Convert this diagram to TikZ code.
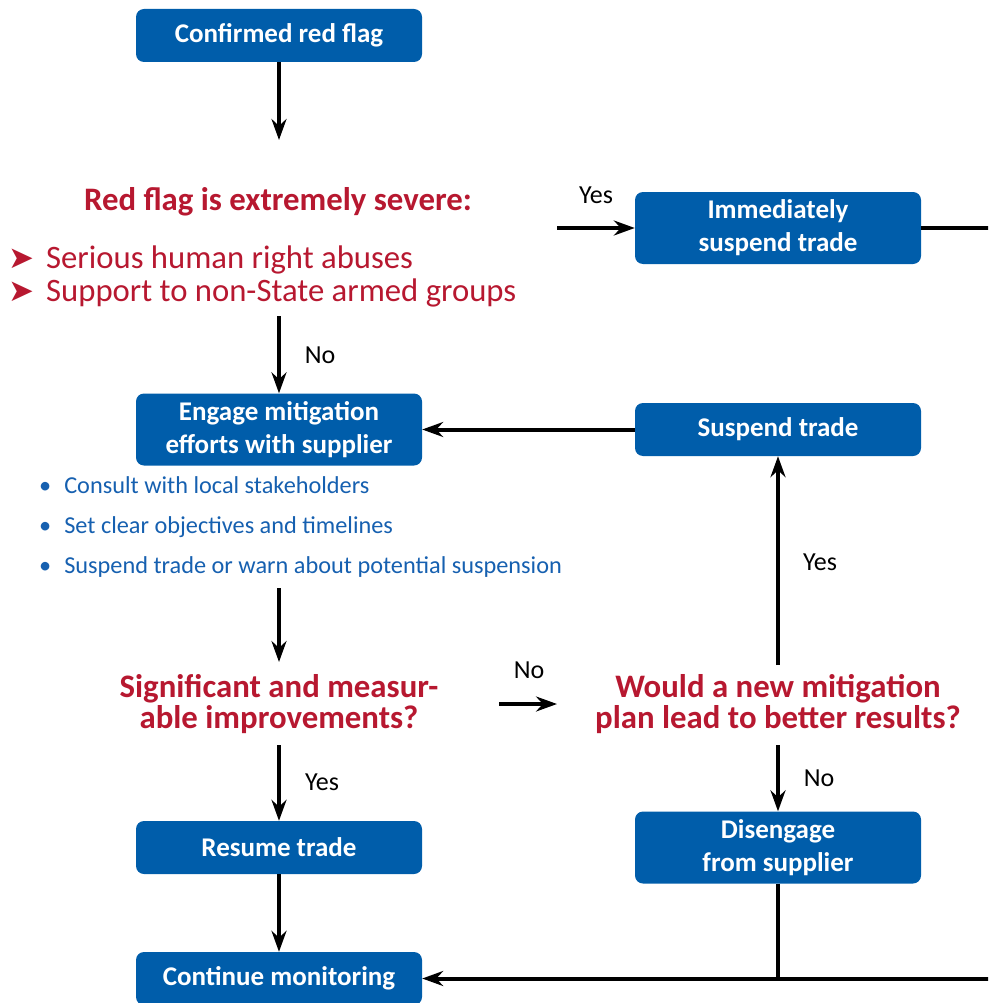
\documentclass[tikz,border=0pt]{standalone}
\usepackage{fontspec}
\setmainfont{Carlito}
\newfontfamily\symfont{DejaVu Sans}
\usetikzlibrary{arrows.meta}
\definecolor{boxblue}{RGB}{0,93,170}
\definecolor{flagred}{RGB}{183,24,48}
\definecolor{listblue}{RGB}{22,96,176}
\begin{document}
\begin{tikzpicture}[x=1pt,y=-1pt,
  box/.style={fill=boxblue, rounded corners=8pt, minimum width=286pt, text=white,
    font=\fontsize{27}{33}\selectfont\bfseries, align=center, inner sep=0pt},
  onebox/.style={box, minimum height=53pt},
  twobox/.style={box, minimum height=72pt},
  conn/.style={line width=4pt, -{Stealth[length=21pt,width=15pt,inset=7pt]}},
  plainline/.style={line width=4pt},
  lab/.style={font=\fontsize{26}{30}\selectfont, text=black},
  question/.style={text=flagred, font=\fontsize{32.8}{31.5}\selectfont\bfseries, align=center},
  redlist/.style={text=flagred, font=\fontsize{32.7}{36}\selectfont, anchor=base west, inner sep=0pt},
  bluelist/.style={text=listblue, font=\fontsize{24.3}{28}\selectfont, anchor=base west, inner sep=0pt},
]
\useasboundingbox (0,0) rectangle (988,1003);
\clip (0,0) rectangle (988,1003);

% boxes
\node[onebox] (conf) at (279,35.5) {Confirmed red flag};
\node[twobox] (eng) at (279,429.5) {Engage mitigation\\efforts with supplier};
\node[twobox] (imm) at (778,228) {Immediately\\suspend trade};
\node[onebox] (susp) at (778,429.5) {Suspend trade};
\node[onebox] (res) at (279,847.5) {Resume trade};
\node[twobox] (dis) at (778,847.5) {Disengage\\from supplier};
\node[onebox] (cont) at (279,978.5) {Continue monitoring};

% texts
\node[question] (sev) at (278,202) {Red flag is extremely severe:};
\node[redlist] (r1) at (8,268) {{\symfont\fontsize{31}{31}\selectfont ➤}\hspace{12pt}Serious human right abuses};
\node[redlist] (r2) at (8,301) {{\symfont\fontsize{31}{31}\selectfont ➤}\hspace{12pt}Support to non-State armed groups};
\node[bluelist] (b1) at (39,493) {\textbullet\hspace{13pt}Consult with local stakeholders};
\node[bluelist] (b2) at (39,533) {\textbullet\hspace{13pt}Set clear objectives and timelines};
\node[bluelist] (b3) at (39,573) {\textbullet\hspace{13pt}Suspend trade or warn about potential suspension};
\node[question] (q1) at (279,704) {Significant and measur-\\able improvements?};
\node[question] (q2) at (778,704) {Would a new mitigation\\plan lead to better results?};

% coordinates
\coordinate (c1) at (279,140);
\coordinate (c2) at (279,316);
\coordinate (c3) at (557,228);
\coordinate (c4) at (279,588);
\coordinate (c5) at (279,662);
\coordinate (c6) at (499,704);
\coordinate (c7) at (557,704);
\coordinate (c8) at (778,665);
\coordinate (c9) at (778,745);
\coordinate (c10) at (279,745);
\coordinate (rc) at (1010,978.5);

% connectors
\draw[conn] (conf) -- (c1);
\draw[conn] (c2) -- (eng);
\draw[conn] (c3) -- (imm);
\draw[conn] (susp) -- (eng);
\draw[conn] (c4) -- (c5);
\draw[conn] (c6) -- (c7);
\draw[conn] (c8) -- (susp);
\draw[conn] (c9) -- (dis);
\draw[conn] (c10) -- (res);
\draw[conn] (res) -- (cont);
\draw[conn] (imm.east) -| (rc) -- (cont.east);
\draw[plainline] (dis.south) -- (dis.south |- cont.east);

% labels
\node[lab] at (596,195) {Yes};
\node[lab] at (320,355) {No};
\node[lab] at (529,670) {No};
\node[lab] at (820,562) {Yes};
\node[lab] at (819,778) {No};
\node[lab] at (322,782) {Yes};
\end{tikzpicture}
\end{document}
